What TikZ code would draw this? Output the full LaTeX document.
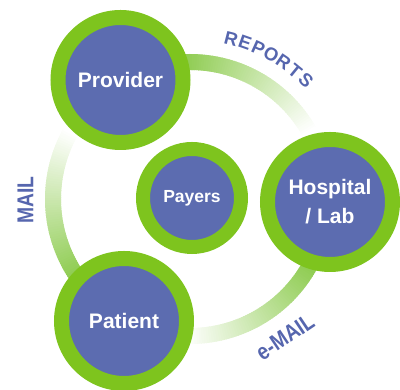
\documentclass[tikz,border=0pt]{standalone}
\usepackage{fontspec}
\setmainfont{Liberation Sans}
\definecolor{ringg}{RGB}{126,196,30}
\definecolor{core}{RGB}{92,108,176}
\definecolor{lblc}{RGB}{86,102,174}
\definecolor{arcg}{RGB}{145,205,85}
\begin{document}
\begin{tikzpicture}[x=1pt,y=1pt,
  bignode/.style={circle, fill=core, draw=ringg, line width=15pt, minimum size=125pt, inner sep=0pt,
    text=white, align=center, font=\fontsize{21}{29}\selectfont\bfseries},
  smallnode/.style={circle, fill=core, draw=ringg, line width=14pt, minimum size=98pt, inner sep=0pt,
    text=white, align=center, font=\fontsize{17.5}{22}\selectfont\bfseries},
  lbltext/.style={text=lblc, inner sep=0pt, font=\fontsize{18.5}{20}\selectfont\bfseries},
  lblcond/.style={text=lblc, inner sep=0pt, font=\fontsize{23}{26}\selectfont\bfseries}]
\useasboundingbox (0,0) rectangle (400,390);
\coordinate (C) at (190,191);
% gradient connector arcs
\begin{scope}[shift={(C)}]
\foreach \s in {120.3,-1.2,241.6} {
  \foreach \i in {0,...,80} {
    \pgfmathsetmacro{\a}{\s-20-\i}
    \pgfmathsetmacro{\p}{max(0,min(100,100*(\a-\s+90)/61))}
    \pgfmathsetmacro{\b}{\a-1.4}
    \draw[line width=16pt, color=arcg!\p!white] (\a:137) arc[start angle=\a, end angle=\b, radius=137];
  }
}
\end{scope}
% nodes
\node[bignode] (provider) at (120.5,310) {Provider};
\node[bignode] (hospital) at (330,188) {Hospital\\/ Lab};
\node[bignode] (patient) at (124,69) {Patient};
\node[smallnode] (payers) at (192,192) {Payers};
% labels
\begin{scope}[shift={(C)}]
\foreach \ch [count=\i from 0] in {R,E,P,O,R,T,S} {
  \pgfmathsetmacro{\a}{75.6-5.0*\i}
  \node[lbltext, anchor=base, rotate=\a-90] (rep\i) at (\a:159.3) {\ch};
}
\end{scope}
\node[lblcond, rotate=90, xscale=0.84] (mail) at (25.5,190) {MAIL};
\node[lblcond, rotate=34, xscale=0.84] (email) at (285,53) {e-MAIL};
\end{tikzpicture}
\end{document}
